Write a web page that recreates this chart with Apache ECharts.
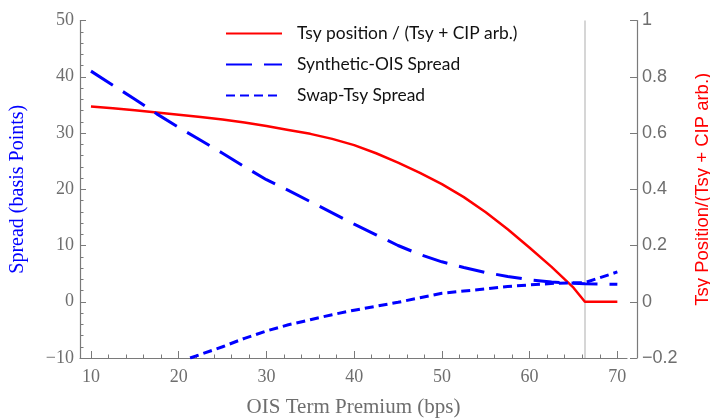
<!DOCTYPE html>
<html>
<head>
<meta charset="utf-8">
<script src="https://cdn.jsdelivr.net/npm/echarts@6/dist/echarts.min.js"></script>
<style>html,body{margin:0;padding:0;background:#fff}#c{width:710px;height:420px}</style>
</head>
<body>
<div id="c"></div>
<script>
// ---- data ----
const posX = [10,12.5,15,17.5,20,22.5,25,27.5,30,32.5,35,37.5,40,42.5,45,47.5,50,52.5,55,57.5,60,62.5,65,66.3,70];
const posY = [0.694,0.688,0.681,0.673,0.665,0.657,0.648,0.637,0.625,0.611,0.597,0.579,0.557,0.528,0.495,0.458,0.418,0.372,0.318,0.258,0.192,0.124,0.05,0,0];
const synX = [10,12.5,15,17.5,20,22.5,25,27.5,30,32.5,35,37.5,40,42.5,45,47.5,50,52.5,55,57.5,60,62.5,65,66.3,70];
const synY = [41,38.5,36,33.4,31.0,28.7,26.4,24.0,21.7,19.8,17.8,15.8,13.8,11.9,10.0,8.4,7.1,6.1,5.2,4.5,3.9,3.5,3.3,3.2,3.1];
const swpX = [21.3,25,27.5,30,32.5,35,37.5,40,42.5,45,47.5,50,52.5,55,57.5,60,63,66.3,70];
const swpY = [-10,-8.0,-6.5,-5.2,-4.1,-3.2,-2.3,-1.5,-0.8,-0.1,0.7,1.5,1.9,2.3,2.7,3.0,3.3,3.4,5.3];
const cutoff = 66.3;
const xMajor = [10,20,30,40,50,60,70];
const xMinor = [10,12,14,16,18,20,22,24,26,28,30,32,34,36,38,40,42,44,46,48,50,52,54,56,58,60,62,64,66,68,70];
const names = ['Tsy position / (Tsy + CIP arb.)','Synthetic-OIS Spread','Swap-Tsy Spread'];

const zip = (a,b) => a.map((v,i)=>[v,b[i]]);
const minus = s => String(s).replace('-', '\u2212');
const grey = '#7a7a7a', lab = '#6e6e6e';

const chart = echarts.init(document.getElementById('c'), null, {renderer:'canvas'});
chart.setOption({
  animation:false,
  backgroundColor:'#fff',
  grid:{left:80, right:83, top:20.5, bottom:62, containLabel:false, outerBoundsMode:'none'},
  legend:{
    orient:'vertical', left:220, top:20, itemWidth:56, itemHeight:14, itemGap:14,
    data:names,
    itemStyle:{opacity:0},
    textStyle:{fontFamily:'Lato', fontSize:17.4, color:'#111', padding:[0,0,0,10]}
  },
  xAxis:[{
    type:'value', min:8.75, max:71.1,
    name:'OIS Term Premium (bps)', nameLocation:'middle', nameGap:39,
    nameTextStyle:{fontFamily:'Liberation Serif', fontSize:21, color:lab},
    axisLine:{onZero:false, lineStyle:{color:grey, width:1.2}},
    axisTick:{inside:true, length:7, customValues:xMajor, lineStyle:{color:grey}},
    axisLabel:{customValues:xMajor, fontFamily:'Liberation Serif', fontSize:18, color:lab, margin:10},
    splitLine:{show:false}
  },{
    type:'value', min:8.75, max:71.1, position:'bottom',
    axisLine:{show:false, onZero:false},
    axisTick:{inside:true, length:3.5, customValues:xMinor, lineStyle:{color:grey}},
    axisLabel:{show:false},
    splitLine:{show:false}
  }],
  yAxis:[{
    type:'value', min:-10, max:50, interval:10,
    name:'Spread (basis Points)', nameLocation:'middle', nameGap:52, nameRotate:90,
    nameTextStyle:{fontFamily:'Liberation Serif', fontSize:20, color:'#0000ff'},
    axisLine:{show:true, onZero:false, lineStyle:{color:grey, width:1.2}},
    axisTick:{show:true, inside:true, length:6, lineStyle:{color:grey}},
    minorTick:{show:true, splitNumber:5, length:3.5, lineStyle:{color:grey}},
    axisLabel:{fontFamily:'Liberation Serif', fontSize:18, color:lab, margin:6, formatter:v=>minus(v)},
    splitLine:{show:false}
  },{
    type:'value', min:-0.2, max:1, interval:0.2, position:'right', offset:10,
    name:'Tsy Position/(Tsy + CIP arb.)', nameLocation:'middle', nameGap:56, nameRotate:90,
    nameTextStyle:{fontFamily:'Liberation Sans', fontSize:18.5, color:'#ff0000'},
    axisLine:{show:true, onZero:false, lineStyle:{color:grey, width:1.2}},
    axisTick:{show:true, inside:true, length:7, lineStyle:{color:grey}},
    axisLabel:{fontFamily:'Liberation Sans', fontSize:18, color:lab, margin:5,
      formatter:v=>minus(Math.round(v*10)/10)},
    splitLine:{show:false}
  }],
  series:[{
    name:names[0], type:'line', yAxisIndex:1, symbol:'none', z:3,
    data:zip(posX,posY),
    lineStyle:{color:'#ff0000', width:2.5}, itemStyle:{color:'#ff0000'},
    markLine:{silent:true, symbol:'none', label:{show:false}, z:1,
      lineStyle:{color:'#c8c8c8', type:'solid', width:1.5},
      data:[{xAxis:cutoff}]}
  },{
    name:names[1], type:'line', symbol:'none', z:4,
    data:zip(synX,synY),
    lineStyle:{color:'#0000ff', width:3, type:[26,12]}, itemStyle:{color:'#0000ff'}
  },{
    name:names[2], type:'line', symbol:'none', z:4,
    data:zip(swpX,swpY),
    lineStyle:{color:'#0000ff', width:3, type:[9,5]}, itemStyle:{color:'#0000ff'}
  }]
});
</script>
</body>
</html>
